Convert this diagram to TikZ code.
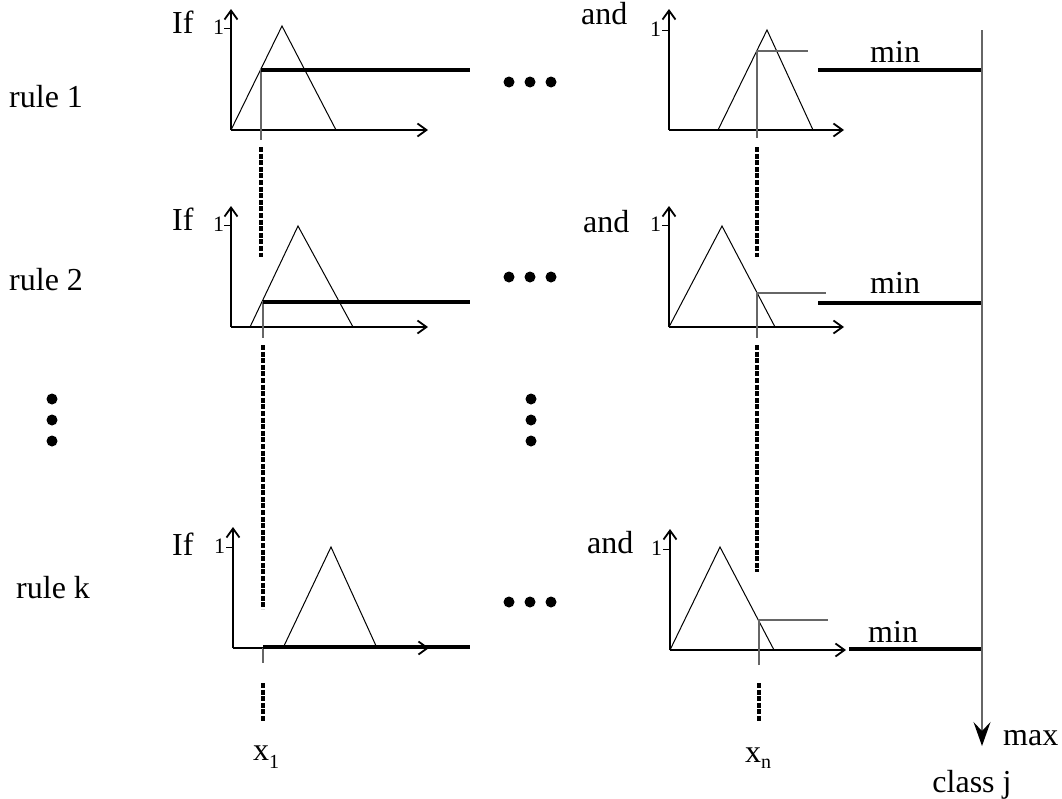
\documentclass[tikz,border=0pt]{standalone}
\usepackage{fontspec}
\setmainfont{Liberation Serif}
\usetikzlibrary{arrows.meta}
\begin{document}
\begin{tikzpicture}[x=1pt,y=-1pt,
  axis/.style={line width=1.1pt,-{Straight Barb[length=9pt,width=13pt,line width=1.8pt]}},
  mf/.style={line width=1pt},
  cutv/.style={line width=1.3pt,draw=black!60},
  strength/.style={line width=4.8pt},
  guide/.style={line width=3.4pt,dash pattern=on 5pt off 1.6pt},
  lbl/.style={font=\fontsize{32}{36}\selectfont,inner sep=0pt},
  one/.style={font=\fontsize{22}{24}\selectfont,inner sep=0pt},
  dot/.style={circle,fill=black,inner sep=0pt,minimum size=11pt},
  tick/.style={line width=1pt},
]
\useasboundingbox (0,0) rectangle (1062,798);

% ---------- row labels ----------
\node[lbl,anchor=base west] (r1) at (9,107) {rule 1};
\node[lbl,anchor=base west] (r2) at (9,290) {rule 2};
\node[lbl,anchor=base west] (rk) at (16,598) {rule k};

% ---------- rule 1, left plot ----------
\coordinate (L1o) at (231,130);
\coordinate (L1x) at (428,130);
\coordinate (L1y) at (231,9);
\draw[axis] (L1o) -- (L1x);
\draw[axis] (L1o) -- (L1y);
\draw[mf] (L1o) -- (282,26) -- (336,130);
\node[lbl,anchor=base west] (if1) at (172,33) {If};
\node[one,anchor=base west] (one1) at (213,34) {1};
\coordinate (t1) at (231,28);
\draw[tick] (t1) -- ++(-7,0);
\coordinate (c1a) at (261,69);
\coordinate (c1b) at (261,140);
\draw[cutv] (c1a) -- (c1b);
\coordinate (s1a) at (261,70);
\coordinate (s1b) at (470,70);
\draw[strength] (s1a) -- (s1b);

% ---------- rule 1, right plot ----------
\coordinate (R1o) at (669,130);
\coordinate (R1x) at (844,130);
\coordinate (R1y) at (669,9);
\draw[axis] (R1o) -- (R1x);
\draw[axis] (R1o) -- (R1y);
\draw[mf] (718,130) -- (767,30) -- (813,130);
\node[lbl,anchor=base west] (and1) at (581,24) {and};
\node[one,anchor=base west] (oner1) at (650,36) {1};
\draw[tick] (669,30) -- ++(-7,0);
\coordinate (d1a) at (757,51);
\coordinate (d1b) at (757,138);
\coordinate (d1c) at (808,51);
\draw[cutv] (d1b) -- (d1a) -- (d1c);
\coordinate (m1a) at (818,70);
\coordinate (m1b) at (982,70);
\draw[strength] (m1a) -- (m1b);
\node[lbl,anchor=base west] (min1) at (870,62) {min};
\node[dot] (h1a) at (509,82) {};
\node[dot] (h1b) at (530,82) {};
\node[dot] (h1c) at (551,82) {};

% ---------- guides between rule 1 and rule 2 ----------
\coordinate (g1a) at (261,147);
\coordinate (g1b) at (261,257);
\draw[guide] (g1a) -- (g1b);
\coordinate (g2a) at (757,147);
\coordinate (g2b) at (757,257);
\draw[guide] (g2a) -- (g2b);

% ---------- rule 2, left plot ----------
\coordinate (L2o) at (231,327);
\coordinate (L2x) at (428,327);
\coordinate (L2y) at (231,206);
\draw[axis] (L2o) -- (L2x);
\draw[axis] (L2o) -- (L2y);
\draw[mf] (250,327) -- (298,226) -- (353,327);
\node[lbl,anchor=base west] (if2) at (172,230) {If};
\node[one,anchor=base west] (one2) at (213,231) {1};
\draw[tick] (231,225) -- ++(-7,0);
\coordinate (c2a) at (263,301);
\coordinate (c2b) at (263,338);
\draw[cutv] (c2a) -- (c2b);
\coordinate (s2a) at (263,302);
\coordinate (s2b) at (470,302);
\draw[strength] (s2a) -- (s2b);

% ---------- rule 2, right plot ----------
\coordinate (R2o) at (669,327);
\coordinate (R2x) at (844,327);
\coordinate (R2y) at (669,206);
\draw[axis] (R2o) -- (R2x);
\draw[axis] (R2o) -- (R2y);
\draw[mf] (669,327) -- (722,226) -- (775,327);
\node[lbl,anchor=base west] (and2) at (583,232) {and};
\node[one,anchor=base west] (oner2) at (650,231) {1};
\draw[tick] (669,225) -- ++(-7,0);
\coordinate (d2a) at (757,293);
\coordinate (d2b) at (757,338);
\coordinate (d2c) at (826,293);
\draw[cutv] (d2b) -- (d2a) -- (d2c);
\coordinate (m2a) at (818,303);
\coordinate (m2b) at (982,303);
\draw[strength] (m2a) -- (m2b);
\node[lbl,anchor=base west] (min2) at (870,293) {min};
\node[dot] (h2a) at (509,277) {};
\node[dot] (h2b) at (530,277) {};
\node[dot] (h2c) at (551,277) {};

% ---------- vertical ellipses ----------
\node[dot] (v1a) at (52,399) {};
\node[dot] (v1b) at (52,420) {};
\node[dot] (v1c) at (52,441) {};
\node[dot] (v2a) at (531,399) {};
\node[dot] (v2b) at (531,420) {};
\node[dot] (v2c) at (531,441) {};

% ---------- guides between rule 2 and rule k ----------
\coordinate (g3a) at (263,345);
\coordinate (g3b) at (263,609);
\draw[guide] (g3a) -- (g3b);
\coordinate (g4a) at (757,345);
\coordinate (g4b) at (757,572);
\draw[guide] (g4a) -- (g4b);

% ---------- rule k, left plot ----------
\coordinate (Lko) at (233,648);
\coordinate (Lkx) at (429,648);
\coordinate (Lky) at (233,527);
\draw[axis] (Lko) -- (Lkx);
\draw[axis] (Lko) -- (Lky);
\draw[mf] (283,648) -- (331,547) -- (377,648);
\node[lbl,anchor=base west] (ifk) at (172,555) {If};
\node[one,anchor=base west] (onek) at (214,553) {1};
\draw[tick] (233,547) -- ++(-7,0);
\coordinate (cka) at (263,648);
\coordinate (ckb) at (263,663);
\draw[cutv] (cka) -- (ckb);
\coordinate (ska) at (263,647);
\coordinate (skb) at (470,647);
\draw[strength] (ska) -- (skb);

% ---------- rule k, right plot ----------
\coordinate (Rko) at (670,650);
\coordinate (Rkx) at (846,650);
\coordinate (Rky) at (670,529);
\draw[axis] (Rko) -- (Rkx);
\draw[axis] (Rko) -- (Rky);
\draw[mf] (670,650) -- (720,547) -- (774,650);
\node[lbl,anchor=base west] (andk) at (587,553) {and};
\node[one,anchor=base west] (onerk) at (651,555) {1};
\draw[tick] (670,549) -- ++(-7,0);
\coordinate (dka) at (759,620);
\coordinate (dkb) at (759,665);
\coordinate (dkc) at (828,620);
\draw[cutv] (dkb) -- (dka) -- (dkc);
\coordinate (mka) at (849,649);
\coordinate (mkb) at (982,649);
\draw[strength] (mka) -- (mkb);
\node[lbl,anchor=base west] (mink) at (868,642) {min};
\node[dot] (hka) at (509,602) {};
\node[dot] (hkb) at (530,602) {};
\node[dot] (hkc) at (551,602) {};

% ---------- guides below rule k ----------
\coordinate (g5a) at (263,683);
\coordinate (g5b) at (263,722);
\draw[guide] (g5a) -- (g5b);
\coordinate (g6a) at (759,683);
\coordinate (g6b) at (759,722);
\draw[guide] (g6a) -- (g6b);

% ---------- input labels ----------
\node[lbl,anchor=base west] (x1) at (253,760) {x\raisebox{-8pt}{\fontsize{20}{20}\selectfont 1}};
\node[lbl,anchor=base west] (xn) at (745,762) {x\raisebox{-6pt}{\fontsize{20}{20}\selectfont n}};

% ---------- max aggregation ----------
\coordinate (maxtop) at (982,30);
\coordinate (maxend) at (982,746);
\draw[line width=1.4pt,draw=black!60,-{Stealth[length=24pt,width=17pt,inset=9pt,color=black]}] (maxtop) -- (maxend);
\node[lbl,anchor=base west] (maxl) at (1003,745) {max};
\node[lbl,anchor=base] (cls) at (972,792) {class j};
\end{tikzpicture}
\end{document}
